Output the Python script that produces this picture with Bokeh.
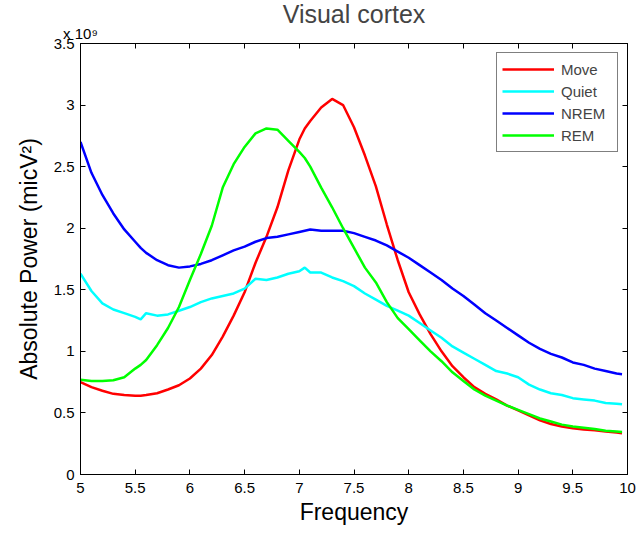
from bokeh.plotting import figure
from bokeh.models import (FixedTicker, LinearAxis, Legend, LegendItem, Range1d,
                          CustomJSTickFormatter)
from bokeh.embed import file_html
from bokeh.resources import INLINE

# Frequency (Hz) and absolute power (units of 1e9 micV^2)
freq = [5.0, 5.1, 5.2, 5.3, 5.4, 5.5, 5.55, 5.6, 5.7, 5.8, 5.9, 6.0, 6.1, 6.2, 6.3, 6.4, 6.5,
        6.6, 6.7, 6.8, 6.9, 7.0, 7.05, 7.1, 7.2, 7.3, 7.4, 7.5, 7.6, 7.7, 7.8, 7.9, 8.0,
        8.1, 8.2, 8.3, 8.4, 8.5, 8.6, 8.7, 8.8, 8.9, 9.0, 9.1, 9.2, 9.3, 9.4, 9.5, 9.6,
        9.7, 9.8, 9.9, 9.95]
move = [0.75, 0.71, 0.68, 0.655, 0.645, 0.64, 0.64, 0.645, 0.66, 0.69, 0.725, 0.78, 0.86, 0.97,
        1.12, 1.29, 1.48, 1.72, 1.93, 2.17, 2.47, 2.72, 2.81, 2.87, 2.98, 3.05, 3.0, 2.82,
        2.59, 2.34, 2.03, 1.74, 1.48, 1.30, 1.14, 1.00, 0.88, 0.79, 0.71, 0.655, 0.61, 0.56,
        0.52, 0.48, 0.44, 0.41, 0.39, 0.375, 0.365, 0.36, 0.35, 0.34, 0.335]
quiet = [1.63, 1.49, 1.39, 1.34, 1.31, 1.28, 1.26, 1.31, 1.29, 1.30, 1.33, 1.36, 1.40, 1.43,
         1.45, 1.47, 1.51, 1.59, 1.58, 1.60, 1.63, 1.65, 1.68, 1.64, 1.64, 1.60, 1.57, 1.53,
         1.47, 1.42, 1.37, 1.33, 1.29, 1.23, 1.17, 1.11, 1.04, 0.99, 0.94, 0.89, 0.84, 0.82,
         0.79, 0.73, 0.69, 0.66, 0.645, 0.62, 0.61, 0.60, 0.58, 0.575, 0.57]
nrem = [2.70, 2.45, 2.27, 2.12, 1.99, 1.89, 1.84, 1.80, 1.74, 1.70, 1.68, 1.69, 1.71, 1.74,
        1.78, 1.82, 1.85, 1.89, 1.92, 1.93, 1.95, 1.97, 1.98, 1.99, 1.98, 1.98, 1.98, 1.96,
        1.93, 1.90, 1.86, 1.81, 1.76, 1.70, 1.64, 1.58, 1.51, 1.45, 1.38, 1.31, 1.25, 1.19,
        1.13, 1.07, 1.02, 0.98, 0.95, 0.91, 0.89, 0.86, 0.84, 0.82, 0.815]
rem = [0.77, 0.76, 0.76, 0.765, 0.79, 0.86, 0.89, 0.93, 1.05, 1.19, 1.36, 1.58, 1.79, 2.02,
       2.33, 2.52, 2.66, 2.77, 2.81, 2.80, 2.71, 2.62, 2.57, 2.50, 2.33, 2.17, 2.00, 1.84,
       1.68, 1.56, 1.40, 1.27, 1.18, 1.09, 1.00, 0.92, 0.83, 0.76, 0.69, 0.64, 0.60, 0.56,
       0.525, 0.49, 0.455, 0.43, 0.405, 0.39, 0.38, 0.37, 0.355, 0.35, 0.345]

series_names = ["Move", "Quiet", "NREM", "REM"]
series_colors = ["#ff0000", "#00ffff", "#0000ff", "#00ff00"]
x_ticks = [5, 5.5, 6, 6.5, 7, 7.5, 8, 8.5, 9, 9.5, 10]
y_ticks = [0, 0.5, 1, 1.5, 2, 2.5, 3, 3.5]

FONT = "Liberation Sans"

p = figure(width=637, height=534, output_backend="svg", toolbar_location=None,
           x_range=Range1d(5, 10), y_range=Range1d(0, 3.5),
           min_border_left=80, min_border_right=10, min_border_top=43, min_border_bottom=60)
p.title.text = "Visual cortex"
p.title.align = "center"
p.title.text_font = FONT
p.title.text_font_size = "25px"
p.title.text_font_style = "normal"
p.title.standoff = -12
p.grid.visible = False
p.outline_line_color = "black"
p.background_fill_color = "white"
p.border_fill_color = "white"

renderers = []
for data, c in zip([move, quiet, nrem, rem], series_colors):
    r = p.line(freq, data, line_color=c, line_width=2.5)
    renderers.append(r)

for ax in [p.xaxis[0], p.yaxis[0]]:
    ax.major_tick_in = 5
    ax.major_tick_out = 0
    ax.minor_tick_in = 0
    ax.minor_tick_out = 0
    ax.axis_line_color = "black"
    ax.major_label_text_font = FONT
    ax.major_label_text_font_size = "15px"
    ax.major_label_text_color = "black"
    ax.axis_label_text_font = FONT
    ax.axis_label_text_font_size = "23px"
    ax.axis_label_text_font_style = "normal"
    ax.axis_label_text_color = "black"

p.xaxis[0].ticker = FixedTicker(ticks=x_ticks)
p.yaxis[0].ticker = FixedTicker(ticks=y_ticks)
p.xaxis[0].axis_label = "Frequency"
p.yaxis[0].axis_label = "Absolute Power (micV\u00b2)"
p.xaxis[0].major_label_standoff = 8
p.yaxis[0].major_label_standoff = 6
p.xaxis[0].axis_label_standoff = 3
p.yaxis[0].axis_label_standoff = 9

blank = CustomJSTickFormatter(code="return ''")
top_ax = LinearAxis(ticker=FixedTicker(ticks=x_ticks), formatter=blank, major_tick_in=5,
                    major_tick_out=0, minor_tick_in=0, minor_tick_out=0, major_label_standoff=0,
                    axis_label="x 10\u2079", axis_label_align="start", axis_label_standoff=2,
                    axis_label_text_align="left",
                    axis_label_text_font=FONT, axis_label_text_font_size="15px",
                    axis_label_text_font_style="normal", axis_label_text_color="black")
right_ax = LinearAxis(ticker=FixedTicker(ticks=y_ticks), formatter=blank, major_tick_in=5,
                      major_tick_out=0, minor_tick_in=0, minor_tick_out=0, major_label_standoff=0)
p.add_layout(top_ax, "above")
p.add_layout(right_ax, "right")

legend = Legend(items=[LegendItem(label=n, renderers=[r]) for n, r in zip(series_names, renderers)],
                location="top_right", label_text_font=FONT, label_text_font_size="15px",
                glyph_width=52, glyph_height=22, label_height=22, label_width=51, spacing=0,
                padding=5, margin=9, border_line_color="black", border_line_width=1,
                label_standoff=7)
p.add_layout(legend)

open("out.html", "w").write(file_html(p, INLINE))
